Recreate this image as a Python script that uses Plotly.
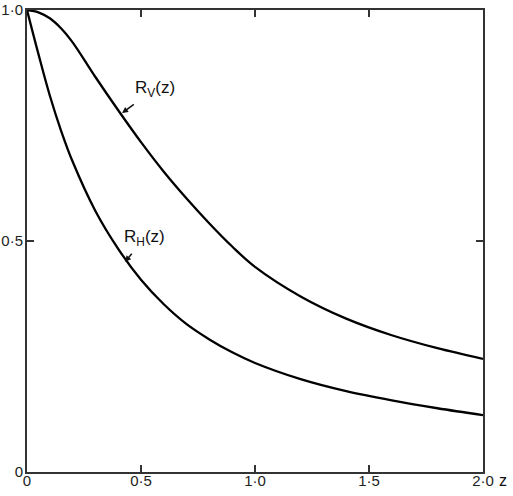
import plotly.graph_objects as go

z = [0, 0.05, 0.1, 0.15, 0.2, 0.3, 0.4, 0.5, 0.6, 0.7, 0.8, 0.9, 1.0, 1.2, 1.4, 1.6, 1.8, 2.0]
r_v = [1.0, 0.995, 0.982, 0.96, 0.93, 0.855, 0.783, 0.714, 0.650, 0.592, 0.538, 0.488, 0.444, 0.380, 0.332, 0.296, 0.268, 0.245]
r_h = [1.0, 0.905, 0.815, 0.738, 0.672, 0.565, 0.483, 0.416, 0.363, 0.320, 0.287, 0.259, 0.236, 0.201, 0.175, 0.155, 0.138, 0.123]

x_ticks = [0, 0.5, 1.0, 1.5, 2.0]
x_tick_text = ["0", "0·5", "1·0", "1·5", "2·0"]
y_ticks = [0, 0.5, 1.0]
y_tick_text = ["0", "0·5", "1·0"]

font = "Liberation Sans, Arial, sans-serif"

fig = go.Figure()
fig.add_trace(go.Scatter(x=z, y=r_v, mode="lines", line=dict(color="black", width=2.3, shape="spline", smoothing=1.0)))
fig.add_trace(go.Scatter(x=z, y=r_h, mode="lines", line=dict(color="black", width=2.3, shape="spline", smoothing=1.0)))

axis_common = dict(
    showgrid=False, zeroline=False, showline=True, linecolor="#333", linewidth=2,
    mirror="allticks", ticks="inside", ticklen=7, tickwidth=2, tickcolor="#333",
    tickfont=dict(family=font, size=15, color="#222"), automargin=False,
)
fig.update_xaxes(range=[0, 2.0], tickvals=x_ticks, ticktext=x_tick_text, ticklabelstandoff=-6, **axis_common)
fig.update_yaxes(range=[0, 1.0], tickvals=y_ticks, ticktext=y_tick_text, ticklabelstandoff=-1, **axis_common)

# curve labels with arrows pointing at the curves
fig.add_annotation(x=0.417, y=0.777, ax=0.561, ay=0.829, axref="x", ayref="y",
                   text="R<sub>V</sub>(z)", showarrow=True, arrowhead=2, arrowsize=0.8,
                   arrowwidth=1.5, arrowcolor="#111", startstandoff=5,
                   font=dict(family=font, size=17, color="#111"))
fig.add_annotation(x=0.430, y=0.455, ax=0.517, ay=0.506, axref="x", ayref="y",
                   text="R<sub>H</sub>(z)", showarrow=True, arrowhead=2, arrowsize=0.8,
                   arrowwidth=1.5, arrowcolor="#111", startstandoff=4,
                   font=dict(family=font, size=17, color="#111"))
fig.add_annotation(x=1.0, y=0, xref="paper", yref="paper", xanchor="left", yanchor="middle",
                   xshift=14, yshift=-8, text="z", showarrow=False,
                   font=dict(family=font, size=16, color="#111"))

fig.update_layout(
    width=513, height=496, showlegend=False,
    margin=dict(l=27, r=30, t=10, b=24),
    plot_bgcolor="white", paper_bgcolor="white",
)
# remove the default 8px page margin so the figure fills the window exactly
fig.write_html("out.html", config={"displayModeBar": False},
               post_script="document.body.style.margin='0';")
